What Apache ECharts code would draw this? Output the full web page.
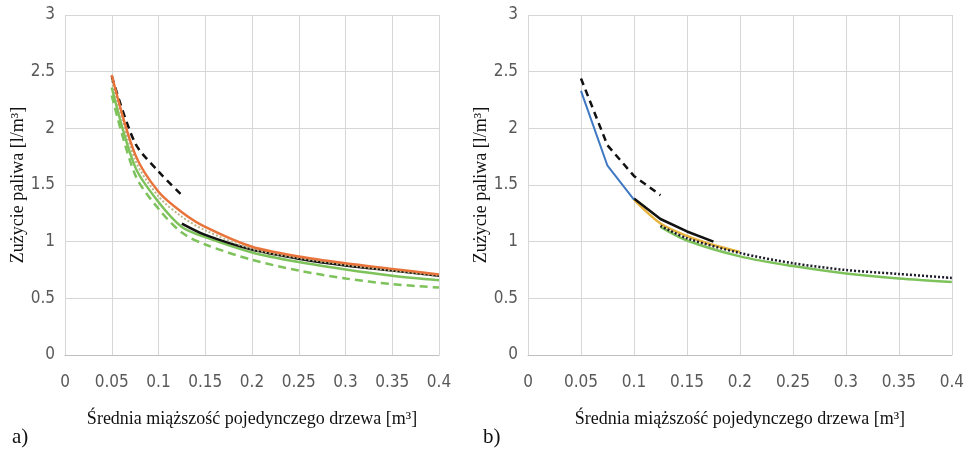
<!DOCTYPE html>
<html>
<head>
<meta charset="utf-8">
<script src="https://cdn.jsdelivr.net/npm/echarts@6/dist/echarts.min.js"></script>
<style>
  html, body { margin: 0; padding: 0; background: #fff; }
  #chart { width: 967px; height: 455px; }
</style>
</head>
<body>
<div id="chart"></div>
<script>
// --- panel a) ---
var xA = [0.05, 0.075, 0.1, 0.125, 0.15, 0.2, 0.25, 0.3, 0.35, 0.4];
var aOrange = [2.47, 1.77, 1.44, 1.26, 1.13, 0.955, 0.87, 0.81, 0.76, 0.71];
var aDotted = [2.42, 1.72, 1.40, 1.22, 1.10, 0.935, 0.855, 0.795, 0.745, 0.70];
var aGreen = [2.36, 1.66, 1.35, 1.13, 1.04, 0.905, 0.82, 0.755, 0.70, 0.66];
var aGreenDash = [2.29, 1.59, 1.29, 1.08, 0.975, 0.84, 0.745, 0.675, 0.625, 0.595];
var xABlack = [0.125, 0.15, 0.2, 0.25, 0.3, 0.35, 0.4];
var aBlack = [1.16, 1.06, 0.93, 0.85, 0.79, 0.745, 0.70];
var xDash = [0.05, 0.075, 0.1, 0.125];
var aBlackDash = [2.46, 1.87, 1.62, 1.41];

// --- panel b) ---
var bBlackDash = [2.44, 1.85, 1.58, 1.41];
var xBlue = [0.05, 0.075, 0.1];
var bBlue = [2.33, 1.67, 1.37];
var xYellow = [0.1, 0.125, 0.15, 0.175, 0.2];
var bYellow = [1.37, 1.16, 1.05, 0.97, 0.91];
var xBBlack = [0.1, 0.125, 0.15, 0.175];
var bBlack = [1.38, 1.20, 1.09, 1.00];
var xTail = [0.125, 0.15, 0.2, 0.25, 0.3, 0.35, 0.4];
var bDotted = [1.14, 1.03, 0.90, 0.81, 0.75, 0.715, 0.68];
var bGreen = [1.13, 1.01, 0.87, 0.785, 0.72, 0.675, 0.645];

var xTitle = 'Średnia miąższość pojedynczego drzewa [m³]';
var yTitle = 'Zużycie paliwa [l/m³]';

function zip(xs, ys) {
	return xs.map(function(x, i) { return [x, ys[i]]; });
}

var tickFont = '"Liberation Sans Narrow", "DejaVu Sans Condensed", sans-serif';
var serif = '"Liberation Serif", "DejaVu Serif", serif';

function xAx(idx) {
	return {
		type: 'value', gridIndex: idx, min: 0, max: 0.4, interval: 0.05,
		name: xTitle, nameLocation: 'middle', nameGap: 55,
		nameTextStyle: { fontFamily: serif, fontSize: 18, color: '#111' },
		axisLine: { lineStyle: { color: '#bfbfbf', width: 1 } },
		axisTick: { show: false },
		axisLabel: { margin: 19, fontFamily: tickFont, fontSize: 17, color: '#595959' },
		splitLine: { show: true, lineStyle: { color: '#d6d6d6', width: 1 } }
	};
}
function yAx(idx) {
	return {
		type: 'value', gridIndex: idx, min: 0, max: 3, interval: 0.5,
		name: yTitle, nameLocation: 'middle', nameGap: 38,
		nameTextStyle: { fontFamily: serif, fontSize: 18, color: '#111' },
		axisLine: { show: false },
		axisTick: { show: false },
		axisLabel: { margin: 10, fontFamily: tickFont, fontSize: 17, color: '#595959' },
		splitLine: { show: true, lineStyle: { color: '#d6d6d6', width: 1 } }
	};
}

function line(gi, data, color, type, width, smooth, z) {
	return {
		type: 'line', xAxisIndex: gi, yAxisIndex: gi, data: data,
		showSymbol: false, smooth: smooth, z: z,
		lineStyle: { color: color, type: type, width: width },
		itemStyle: { color: color }
	};
}

var chart = echarts.init(document.getElementById('chart'));
chart.setOption({
	animation: false,
	grid: [
		{ left: 65, right: 528, top: 15, bottom: 100 },
		{ left: 528, right: 13, top: 15, bottom: 100 }
	],
	xAxis: [xAx(0), xAx(1)],
	yAxis: [yAx(0), yAx(1)],
	graphic: [
		{ type: 'text', left: 12, top: 427, style: { text: 'a)', fontFamily: serif, fontSize: 21, fill: '#111' } },
		{ type: 'text', left: 483, top: 427, style: { text: 'b)', fontFamily: serif, fontSize: 21, fill: '#111' } }
	],
	series: [
		line(0, zip(xA, aGreenDash), '#7dc25b', [8, 5], 2.5, 0.3, 2),
		line(0, zip(xA, aGreen), '#7dc25b', 'solid', 2.5, 0.3, 3),
		line(0, zip(xABlack, aBlack), '#111', 'solid', 2.5, 0.3, 4),
		line(0, zip(xA, aDotted), '#b9b48a', [2, 2], 2, 0.3, 5),
		line(0, zip(xDash, aBlackDash), '#111', [7, 5], 2.5, 0.3, 5),
		line(0, zip(xA, aOrange), '#e8743b', 'solid', 2.5, 0.3, 6),

		line(1, zip(xTail, bGreen), '#7dc25b', 'solid', 2.5, 0.3, 2),
		line(1, zip(xYellow, bYellow), '#e8b440', 'solid', 2.5, 0.3, 3),
		line(1, zip(xTail, bDotted), '#1c1c2c', [2, 2], 2.5, 0.3, 4),
		line(1, zip(xBBlack, bBlack), '#111', 'solid', 2.5, false, 5),
		line(1, zip(xBlue, bBlue), '#3f78c2', 'solid', 2, false, 5),
		line(1, zip(xDash, bBlackDash), '#111', [7, 5], 2.5, false, 6)
	]
});
window.addEventListener('resize', chart.resize);
</script>
</body>
</html>
